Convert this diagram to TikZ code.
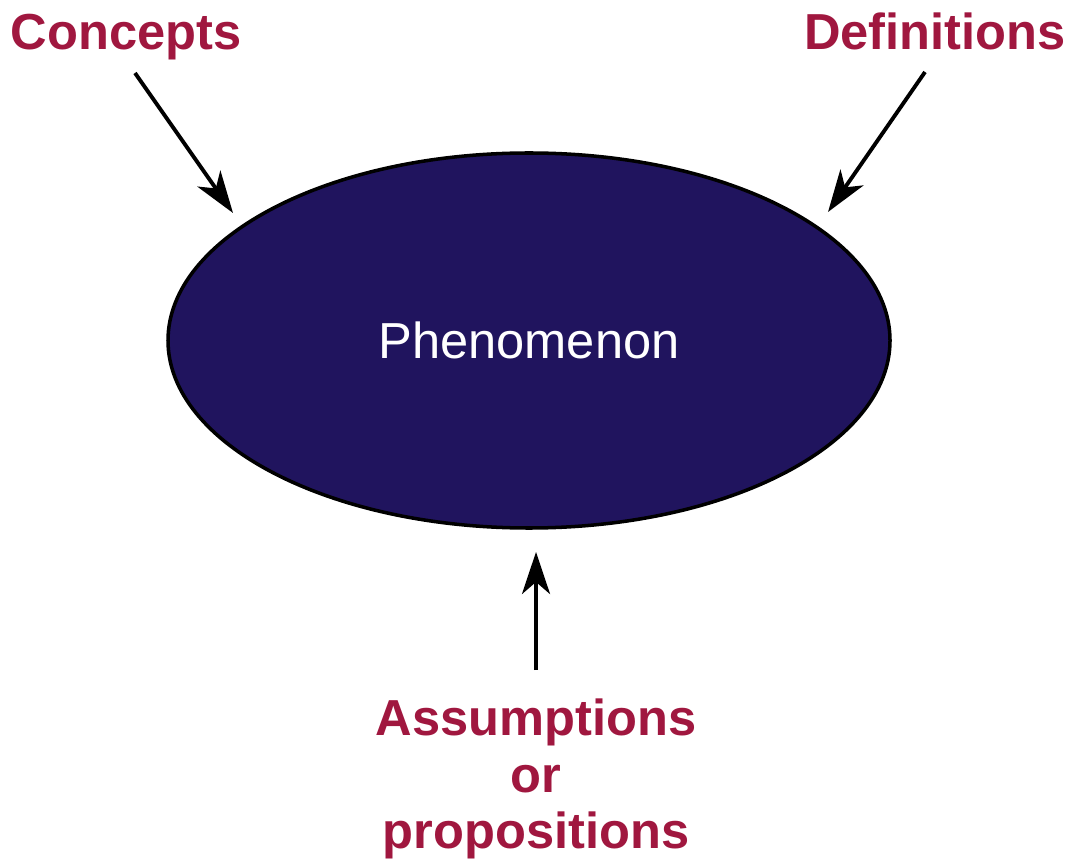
\documentclass[tikz,border=0pt]{standalone}
\usepackage{fontspec}
\setmainfont{Liberation Sans}
\usepackage{tikz}
\usetikzlibrary{arrows.meta, shapes.geometric}
\definecolor{crimson}{HTML}{A0173F}
\definecolor{navy}{HTML}{20145E}

\begin{document}
\begin{tikzpicture}[>={Stealth[length=.42cm,width=.28cm,inset=.12cm]},
 every node/.style={font=\fontsize{14.4}{16}\selectfont},
 term/.style={text=crimson,font=\fontsize{14.4}{16}\selectfont\bfseries,align=center,inner sep=0pt},
 pointer/.style={->,line width=1.1pt}]
 \useasboundingbox (0,0) rectangle (10.72,8.60);
 \node[ellipse,draw,line width=1pt,fill=navy,minimum width=7.22cm,minimum height=3.75cm,
  inner sep=0pt,text=white] (phen) at (5.29,5.195) {Phenomenon};
 \node[term,anchor=base] (conc) at (1.26,8.10) {Concepts};
 \node[term,anchor=base] (defn) at (9.35,8.10) {Definitions};
 \node[term] (assu) at (5.36,0.81) {Assumptions\\or\\propositions};
 \coordinate (c1) at (1.35,7.87);
 \coordinate (c2) at (2.33,6.47);
 \coordinate (d1) at (9.25,7.88);
 \coordinate (d2) at (8.28,6.48);
 \coordinate (a1) at (5.36,1.90);
 \coordinate (a2) at (5.36,3.08);
 \draw[pointer] (c1)--(c2);
 \draw[pointer] (d1)--(d2);
 \draw[pointer] (a1)--(a2);
\end{tikzpicture}
\end{document}
